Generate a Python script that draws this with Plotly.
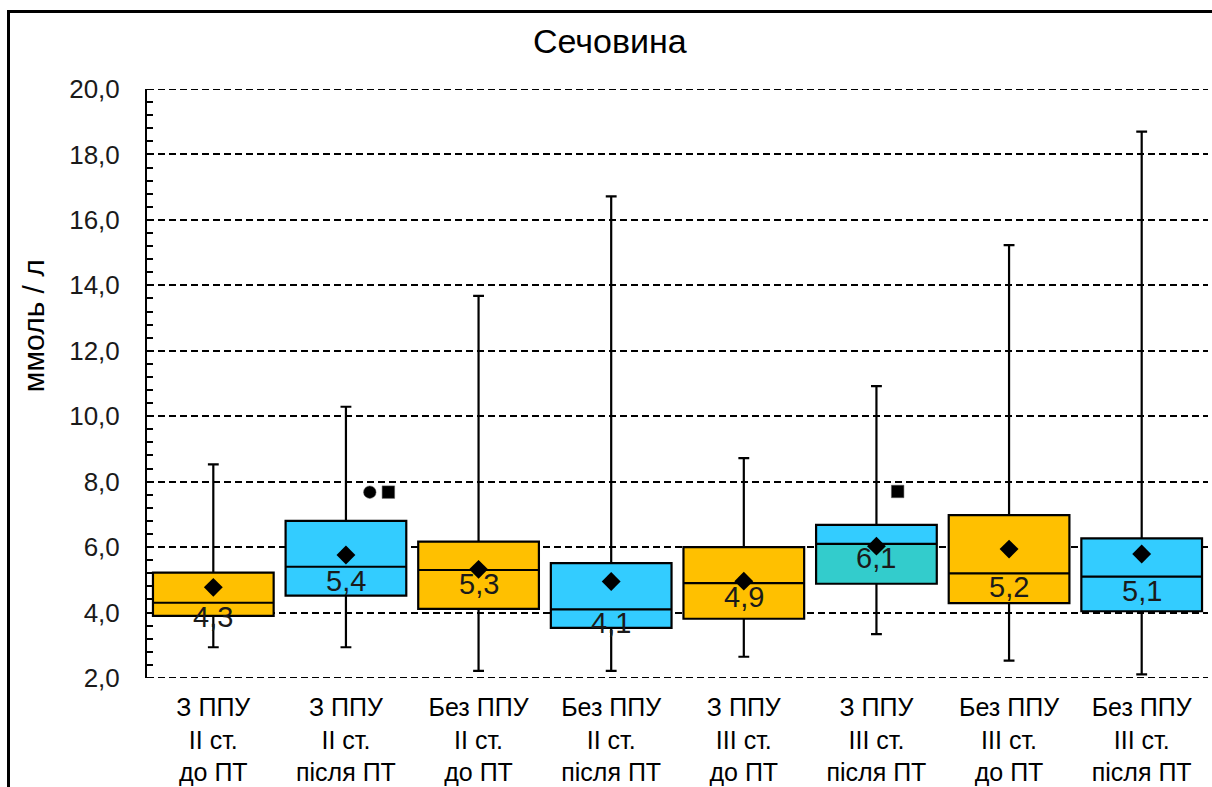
import plotly.graph_objects as go

# Сечовина (ммоль/л) по групах пацієнтів
categories = [
    "З ППУ<br>II ст.<br>до ПТ",
    "З ППУ<br>II ст.<br>після ПТ",
    "Без ППУ<br>II ст.<br>до ПТ",
    "Без ППУ<br>II ст.<br>після ПТ",
    "З ППУ<br>III ст.<br>до ПТ",
    "З ППУ<br>III ст.<br>після ПТ",
    "Без ППУ<br>III ст.<br>до ПТ",
    "Без ППУ<br>III ст.<br>після ПТ",
]
q1_vals = [3.90, 4.52, 4.11, 3.53, 3.81, 4.88, 4.29, 4.04]
median_vals = [4.3, 5.4, 5.3, 4.1, 4.9, 6.1, 5.2, 5.1]
q3_vals = [5.22, 6.80, 6.17, 5.51, 6.00, 6.68, 6.98, 6.27]
low_vals = [2.94, 2.94, 2.22, 2.22, 2.65, 3.34, 2.53, 2.11]
high_vals = [8.53, 10.29, 13.68, 16.72, 8.72, 10.92, 15.23, 18.70]
mean_vals = [4.77, 5.76, 5.32, 4.95, 4.96, 6.03, 5.94, 5.79]

# окремі значення поза вусами: (індекс групи, значення, символ)
outlier_group = [1, 1, 5]
outlier_vals = [7.68, 7.68, 7.70]
outlier_symbol = ["circle", "square", "square"]

# кольори нижньої та верхньої половини ящика
ORANGE, BLUE, TEAL = "#FFC000", "#33CCFF", "#33CCCC"
lower_colors = [ORANGE, BLUE, ORANGE, BLUE, ORANGE, TEAL, ORANGE, BLUE]
upper_colors = [ORANGE, BLUE, ORANGE, BLUE, ORANGE, BLUE, ORANGE, BLUE]

FONT = "Liberation Sans, Arial, sans-serif"
BOX_W = 0.91
OUTLIER_SHIFT = [0.18, 0.32, 0.16]
Y_RANGE = [2, 20]
GRID_DASH = "7px,4px"

xs = list(range(len(categories)))

fig = go.Figure()

# заливка ящиків: від Q1 до медіани та від медіани до Q3
fig.add_trace(go.Bar(
    x=xs, y=[m - a for m, a in zip(median_vals, q1_vals)], base=q1_vals,
    width=BOX_W, marker=dict(color=lower_colors, line=dict(width=0)),
    showlegend=False, hoverinfo="skip"))
fig.add_trace(go.Bar(
    x=xs, y=[b - m for b, m in zip(q3_vals, median_vals)], base=median_vals,
    width=BOX_W, marker=dict(color=upper_colors, line=dict(width=0)),
    showlegend=False, hoverinfo="skip"))

# контури ящиків, медіани та вуса
fig.add_trace(go.Box(
    x=xs, q1=q1_vals, median=median_vals, q3=q3_vals,
    lowerfence=low_vals, upperfence=high_vals,
    width=BOX_W, whiskerwidth=0.09,
    fillcolor="rgba(0,0,0,0)", line=dict(color="black", width=2.2),
    boxpoints=False, showlegend=False))

# середні значення
fig.add_trace(go.Scatter(
    x=xs, y=mean_vals, mode="markers",
    marker=dict(symbol="diamond", size=14.5, color="black"),
    showlegend=False))

# окремі точки
fig.add_trace(go.Scatter(
    x=[outlier_group[i] + OUTLIER_SHIFT[i] for i in range(len(outlier_group))],
    y=outlier_vals, mode="markers",
    marker=dict(symbol=outlier_symbol, size=12.5, color="black",
                line=dict(color="rgba(90,90,90,0.5)", width=1)),
    showlegend=False))

# підписи медіан
for x, m in zip(xs, median_vals):
    fig.add_annotation(
        x=x, y=m, xref="x", yref="y", text=f"{m:.1f}".replace(".", ","),
        showarrow=False, yanchor="top", yshift=4,
        font=dict(family=FONT, size=29, color="#1a1a1a"))

# заголовок і підпис осі
fig.add_annotation(
    x=0.4364, y=1.0823, xref="paper", yref="paper", text="Сечовина",
    showarrow=False, xanchor="center", yanchor="middle",
    font=dict(family=FONT, size=34, color="black"))
fig.add_annotation(
    x=-0.1075, y=0.599, xref="paper", yref="paper", text="ммоль / л",
    showarrow=False, textangle=-90, xanchor="center", yanchor="middle",
    font=dict(family=FONT, size=30, color="black"))

# зовнішня рамка діаграми (права й нижня сторони виходять за межі полотна)
fig.add_annotation(
    x=-0.1324, y=1.1349, xref="paper", yref="paper", text=" ",
    showarrow=False, xanchor="left", yanchor="top",
    width=1250, height=820, borderpad=0,
    bordercolor="black", borderwidth=3, bgcolor="rgba(0,0,0,0)")

# пунктирні лінії на краях шкали
for yv in Y_RANGE:
    fig.add_shape(type="line", xref="paper", yref="y", x0=0, x1=1, y0=yv, y1=yv,
                  line=dict(color="black", width=2, dash=GRID_DASH), layer="below")

fig.update_layout(
    width=1212, height=787,
    margin=dict(l=147, r=4, t=89, b=109, pad=0, autoexpand=False),
    paper_bgcolor="white", plot_bgcolor="white",
    separators=", ",
    barmode="overlay", bargap=0,
    font=dict(family=FONT, color="black"),
    showlegend=False,
)
fig.update_xaxes(
    range=[-0.5, 7.5], tickmode="array", tickvals=xs, ticktext=categories,
    showgrid=False, zeroline=False, showline=False, ticks="",
    tickfont=dict(family=FONT, size=25, color="black"),
    ticklabelstandoff=12, automargin=False,
)
fig.update_yaxes(
    range=Y_RANGE, dtick=2, tick0=0, tickformat=".1f",
    showgrid=True, gridcolor="black", gridwidth=2, griddash=GRID_DASH,
    zeroline=False, showline=True, linecolor="black", linewidth=2,
    ticks="inside", ticklen=6, tickwidth=2, tickcolor="black",
    minor=dict(dtick=0.4, tick0=0, ticks="inside", ticklen=6, tickwidth=2,
               tickcolor="black", showgrid=False),
    tickfont=dict(family=FONT, size=26, color="#1a1a1a"),
    ticklabelstandoff=20, automargin=False,
)

fig.write_html("out.html")
